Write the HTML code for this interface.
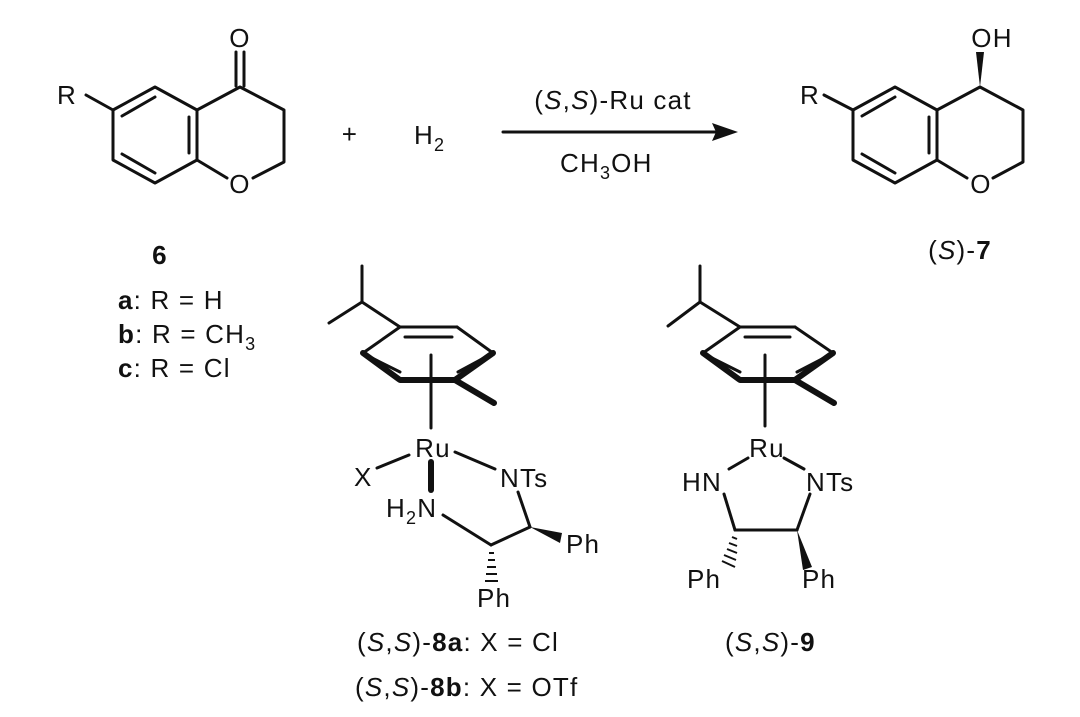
<!DOCTYPE html>
<html><head><meta charset="utf-8"><style>
html,body{margin:0;padding:0;background:#fff;}
svg{display:block;}
text{font-family:"Liberation Sans",Arial,sans-serif;fill:#111;}
</style></head><body>
<svg width="1080" height="717" viewBox="0 0 1080 717" xmlns="http://www.w3.org/2000/svg">
<g stroke="#111" stroke-width="3" fill="none" stroke-linecap="round" stroke-linejoin="round">
<line x1="86" y1="95" x2="113" y2="110"/>
<polyline points="113,110 155,87 197,110 197,160 155,183 113,160 113,110"/>
<line x1="122" y1="116" x2="155" y2="97"/>
<line x1="189" y1="117" x2="189" y2="153"/>
<line x1="122" y1="154" x2="155" y2="173"/>
<polyline points="197,110 240,87 284,110 284,162 253,178"/>
<line x1="227" y1="178" x2="197" y2="160"/>
<line x1="236" y1="86" x2="236" y2="52"/>
<line x1="244" y1="86" x2="244" y2="52"/>
<line x1="824" y1="95" x2="853" y2="110"/>
<polyline points="853,110 895,87 937,110 937,160 895,183 853,160 853,110"/>
<line x1="862" y1="116" x2="895" y2="97"/>
<line x1="929" y1="117" x2="929" y2="153"/>
<line x1="862" y1="154" x2="895" y2="173"/>
<polyline points="937,110 980,87 1023,110 1023,162 993,178"/>
<line x1="967" y1="178" x2="937" y2="160"/>
<line x1="503" y1="132" x2="720" y2="132"/>
<line x1="362" y1="302" x2="362" y2="266"/>
<line x1="362" y1="302" x2="329" y2="323"/>
<line x1="362" y1="302" x2="400" y2="327"/>
<line x1="400" y1="327" x2="457" y2="327"/>
<line x1="457" y1="327" x2="493" y2="353"/>
<line x1="400" y1="327" x2="363" y2="353"/>
<line x1="405" y1="337" x2="452" y2="337"/>
<line x1="372" y1="358" x2="400" y2="372"/>
<line x1="484" y1="358" x2="458" y2="372"/>
<line x1="431" y1="355" x2="431" y2="428"/>
<line x1="377" y1="468" x2="409" y2="455"/>
<line x1="455" y1="452" x2="495" y2="469"/>
<line x1="443" y1="515" x2="491" y2="545"/>
<line x1="491" y1="545" x2="530" y2="527"/>
<line x1="518" y1="492" x2="530" y2="527"/>
<line x1="700" y1="302" x2="700" y2="266"/>
<line x1="700" y1="302" x2="668" y2="326"/>
<line x1="700" y1="302" x2="740" y2="327"/>
<line x1="740" y1="327" x2="795" y2="327"/>
<line x1="795" y1="327" x2="833" y2="353"/>
<line x1="740" y1="327" x2="703" y2="353"/>
<line x1="745" y1="337" x2="790" y2="337"/>
<line x1="712" y1="358" x2="740" y2="372"/>
<line x1="824" y1="358" x2="797" y2="372"/>
<line x1="765" y1="355" x2="765" y2="426"/>
<line x1="748" y1="458" x2="729" y2="469"/>
<line x1="784" y1="458" x2="804" y2="469"/>
<line x1="724" y1="494" x2="735" y2="530"/>
<line x1="810" y1="494" x2="797" y2="530"/>
<line x1="735" y1="530" x2="797" y2="530"/>
</g>
<g stroke="#111" stroke-width="6" fill="none" stroke-linecap="round" stroke-linejoin="round">
<polyline points="363,353 400,380 455,380 493,353"/>
<line x1="455" y1="380" x2="494" y2="403"/>
<line x1="431" y1="462" x2="431" y2="490"/>
<polyline points="703,353 740,380 795,380 833,353"/>
<line x1="795" y1="380" x2="834" y2="403"/>
</g>
<g fill="#111">
<polygon points="738,132 712,123 716,132 712,141"/>
<polygon points="980,87 976,52 984,52"/>
<polygon points="530,527 562,533 560,543"/>
<polygon points="797,530 803,570 812,567"/>
</g>
<g stroke="#111" stroke-width="2">
<line x1="489" y1="553" x2="494" y2="553"/>
<line x1="488" y1="560" x2="495" y2="560"/>
<line x1="487" y1="567" x2="496" y2="567"/>
<line x1="486" y1="574" x2="497" y2="574"/>
<line x1="485" y1="581" x2="498" y2="581"/>
<line x1="732" y1="537" x2="737" y2="539"/>
<line x1="729" y1="543" x2="737" y2="546"/>
<line x1="727" y1="549" x2="737" y2="553"/>
<line x1="724" y1="555" x2="736" y2="560"/>
<line x1="722" y1="561" x2="735" y2="567"/>
</g>
<g font-size="26" letter-spacing="1.2">
<text x="57" y="104">R</text>
<text x="240" y="47" text-anchor="middle">O</text>
<text x="240" y="193" text-anchor="middle">O</text>
<text x="800" y="104">R</text>
<text x="992" y="47" text-anchor="middle">OH</text>
<text x="981" y="193" text-anchor="middle">O</text>
<text x="350" y="143" text-anchor="middle">+</text>
<text x="414" y="144">H<tspan font-size="18" dy="7">2</tspan></text>
<text x="613" y="109" text-anchor="middle">(<tspan font-style="italic">S</tspan>,<tspan font-style="italic">S</tspan>)-Ru cat</text>
<text x="560" y="172">CH<tspan font-size="18" dy="7">3</tspan><tspan dy="-7">OH</tspan></text>
<text x="160" y="264" text-anchor="middle" font-weight="bold">6</text>
<text x="118" y="309"><tspan font-weight="bold">a</tspan>: R = H</text>
<text x="118" y="343"><tspan font-weight="bold">b</tspan>: R = CH<tspan font-size="18" dy="7">3</tspan></text>
<text x="118" y="377"><tspan font-weight="bold">c</tspan>: R = Cl</text>
<text x="960" y="259" text-anchor="middle">(<tspan font-style="italic">S</tspan>)-<tspan font-weight="bold">7</tspan></text>
<text x="433" y="457" text-anchor="middle">Ru</text>
<text x="354" y="486">X</text>
<text x="500" y="487">NTs</text>
<text x="386" y="517">H<tspan font-size="18" dy="7">2</tspan><tspan dy="-7">N</tspan></text>
<text x="566" y="553">Ph</text>
<text x="477" y="607">Ph</text>
<text x="767" y="457" text-anchor="middle">Ru</text>
<text x="682" y="491">HN</text>
<text x="806" y="491">NTs</text>
<text x="687" y="588">Ph</text>
<text x="802" y="588">Ph</text>
<text x="357" y="651">(<tspan font-style="italic">S</tspan>,<tspan font-style="italic">S</tspan>)-<tspan font-weight="bold">8a</tspan>: X = Cl</text>
<text x="355" y="696">(<tspan font-style="italic">S</tspan>,<tspan font-style="italic">S</tspan>)-<tspan font-weight="bold">8b</tspan>: X = OTf</text>
<text x="725" y="651">(<tspan font-style="italic">S</tspan>,<tspan font-style="italic">S</tspan>)-<tspan font-weight="bold">9</tspan></text>
</g>
</svg>
</body></html>
